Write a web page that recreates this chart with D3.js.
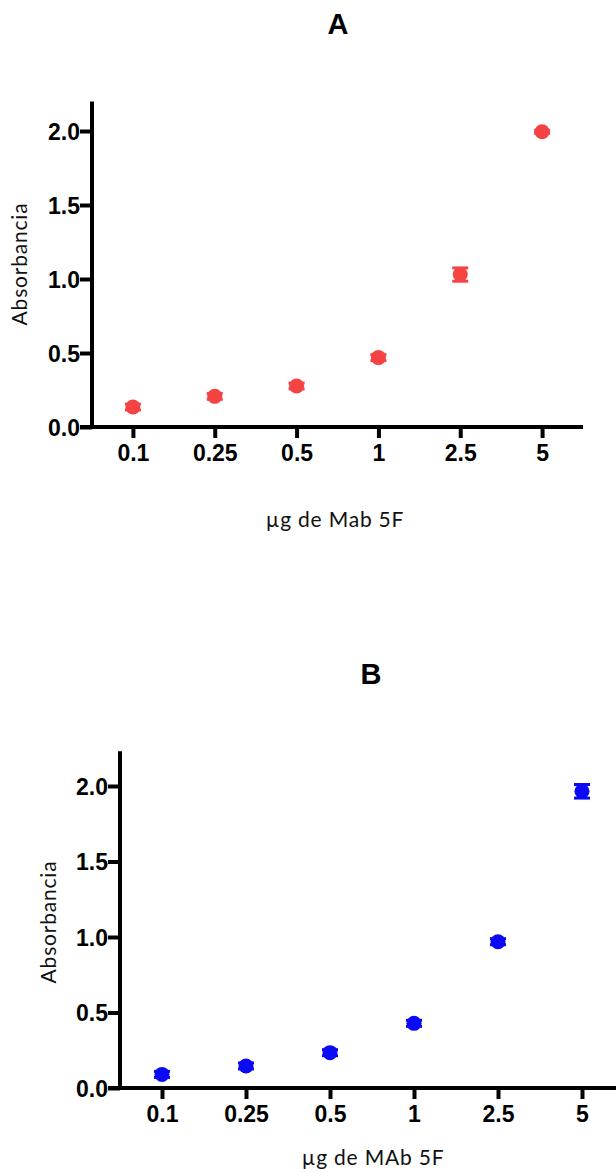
<!DOCTYPE html>
<html>
<head>
<meta charset="utf-8">
<script src="https://cdn.jsdelivr.net/npm/d3@7"></script>
<style>
  body { margin: 0; background: #fff; }
  .tick text { font-family: "Liberation Sans", Arial, sans-serif; font-weight: bold; font-size: 23px; fill: #000; }
  .lab { font-family: "Lato", "Open Sans", sans-serif; font-weight: 400; font-size: 21px; letter-spacing: 0.8px; fill: #111; }
  .ttl { font-family: "Liberation Sans", Arial, sans-serif; font-weight: bold; font-size: 29px; }
</style>
</head>
<body>
<svg width="616" height="1173"></svg>
<script>
var doses = ["0.1", "0.25", "0.5", "1", "2.5", "5"];
var yTicks = [0, 0.5, 1.0, 1.5, 2.0];

var meanA = [0.135, 0.207, 0.277, 0.469, 1.03, 1.995];
var errA = [0.02, 0.02, 0.02, 0.02, 0.045, 0.01];
var meanB = [0.09, 0.146, 0.234, 0.428, 0.969, 1.965];
var errB = [0.02, 0.02, 0.02, 0.02, 0.02, 0.045];

var svg = d3.select("svg");

var panel = function(opt){
  var x = d3.scalePoint().domain(doses).range([opt.left, opt.right]).padding(0.5);
  var y = d3.scaleLinear().domain([0, 2.0]).range([opt.bottom, opt.top2]);
  var g = svg.append("g");

  g.append("text").attr("class", "ttl")
    .attr("x", opt.titleX).attr("y", opt.titleY)
    .attr("text-anchor", "middle").text(opt.title);

  // y axis
  var ya = g.append("g").attr("transform", "translate(" + opt.left + ",0)")
    .call(d3.axisLeft(y).tickValues(yTicks).tickFormat(d3.format(".1f")).tickSize(12).tickSizeOuter(0));
  ya.select(".domain").remove();
  ya.selectAll(".tick line").attr("stroke", "#000").attr("stroke-width", 4);
  ya.selectAll(".tick text").attr("x", -12).attr("dy", "0.36em");
  g.append("line").attr("x1", opt.left).attr("x2", opt.left)
    .attr("y1", y(opt.ymax)).attr("y2", opt.bottom + 2)
    .attr("stroke", "#000").attr("stroke-width", 4);

  // x axis
  var xa = g.append("g").attr("transform", "translate(0," + opt.bottom + ")")
    .call(d3.axisBottom(x).tickSize(11).tickSizeOuter(0));
  xa.select(".domain").remove();
  xa.selectAll(".tick line").attr("stroke", "#000").attr("stroke-width", 4);
  xa.selectAll(".tick text").attr("y", 18);
  g.append("line").attr("x1", opt.left - 12).attr("x2", opt.right)
    .attr("y1", opt.bottom).attr("y2", opt.bottom)
    .attr("stroke", "#000").attr("stroke-width", 4);

  // labels
  g.append("text").attr("class", "lab")
    .attr("x", opt.xlabX).attr("y", opt.xlabY)
    .attr("text-anchor", "middle").text(opt.xlab);
  g.append("text").attr("class", "lab")
    .attr("transform", "translate(" + opt.ylabX + "," + opt.ylabY + ") rotate(-90)")
    .attr("text-anchor", "middle").text("Absorbancia");

  // error bars + points
  var pts = g.selectAll(".pt").data(opt.mean).enter().append("g");
  pts.append("line")
    .attr("x1", function(d, i){ return x(doses[i]); })
    .attr("x2", function(d, i){ return x(doses[i]); })
    .attr("y1", function(d, i){ return y(d - opt.err[i]); })
    .attr("y2", function(d, i){ return y(d + opt.err[i]); })
    .attr("stroke", opt.color).attr("stroke-width", 3);
  [-1, 1].forEach(function(s){
    pts.append("line")
      .attr("x1", function(d, i){ return x(doses[i]) - 8; })
      .attr("x2", function(d, i){ return x(doses[i]) + 8; })
      .attr("y1", function(d, i){ return y(d + s * opt.err[i]); })
      .attr("y2", function(d, i){ return y(d + s * opt.err[i]); })
      .attr("stroke", opt.color).attr("stroke-width", 3);
  });
  pts.append("circle")
    .attr("cx", function(d, i){ return x(doses[i]); })
    .attr("cy", function(d){ return y(d); })
    .attr("r", 7.5).attr("fill", opt.color);
};

panel({title: "A", titleX: 338, titleY: 34, left: 92, right: 583, bottom: 427, top2: 131, ymax: 2.2,
  mean: meanA, err: errA, color: "#f54343", xlab: "µg de Mab 5F", xlabX: 335, xlabY: 527, ylabX: 27, ylabY: 264});
panel({title: "B", titleX: 371, titleY: 684, left: 120, right: 624, bottom: 1088, top2: 786, ymax: 2.23,
  mean: meanB, err: errB, color: "#0a0af5", xlab: "µg de MAb 5F", xlabX: 373, xlabY: 1165, ylabX: 56, ylabY: 922});
</script>
</body>
</html>
